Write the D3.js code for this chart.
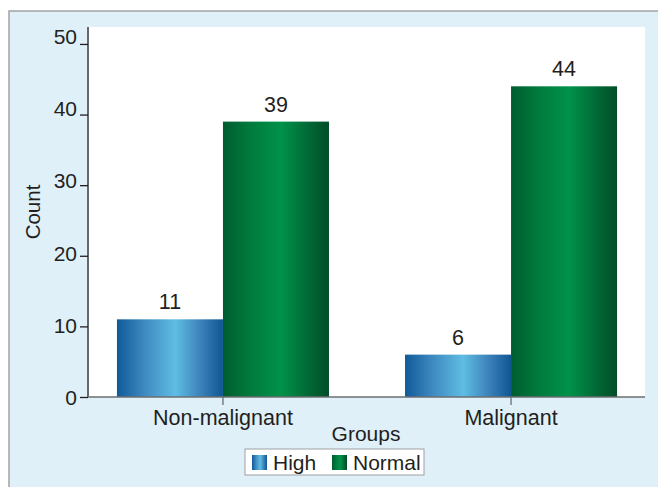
<!DOCTYPE html>
<html>
<head>
<meta charset="utf-8">
<script src="https://cdn.jsdelivr.net/npm/d3@7"></script>
<style>
  body { margin: 0; background: #fff; }
  svg text { font-family: "Liberation Sans", Arial, sans-serif; fill: #231f20; }
</style>
</head>
<body>
<svg id="chart"></svg>
<script>
// data
const groups = ['Non-malignant', 'Malignant'];
const seriesNames = ['High', 'Normal'];
const highValues = [11, 6];
const normalValues = [39, 44];
const yTicks = [0, 10, 20, 30, 40, 50];

const width = 658, height = 487;
const plot = { left: 89, right: 645, top: 27, bottom: 397 };

const svg = d3.select('#chart').attr('width', width).attr('height', height);

// gradients
const defs = svg.append('defs');
function gradient(id, stops) {
    const g = defs.append('linearGradient').attr('id', id)
        .attr('x1', '0%').attr('x2', '100%').attr('y1', '0%').attr('y2', '0%');
    stops.forEach(([o, c]) => g.append('stop').attr('offset', o).attr('stop-color', c));
}
gradient('gradHigh', [['0%', '#0f5a98'], ['25%', '#3d88bf'], ['55%', '#5fbde3'], ['80%', '#3a7fb8'], ['100%', '#0f5693']]);
gradient('gradNormal', [['0%', '#005c30'], ['25%', '#007a3d'], ['55%', '#00924a'], ['80%', '#006a36'], ['100%', '#004d27']]);
const fills = { High: 'url(#gradHigh)', Normal: 'url(#gradNormal)' };

// background frame
svg.append('rect').attr('x', 9).attr('y', 11).attr('width', 680).attr('height', 500)
    .attr('fill', '#dff0f9').attr('stroke', '#a3a3a3').attr('stroke-width', 1.5);
svg.append('rect').attr('x', plot.left).attr('y', plot.top)
    .attr('width', plot.right - plot.left).attr('height', plot.bottom - plot.top)
    .attr('fill', '#fff');

// scales
const x0 = d3.scaleBand().domain(groups).range([plot.left, plot.right])
    .paddingInner(0.264).paddingOuter(0.097);
const x1 = d3.scaleBand().domain(seriesNames).range([0, x0.bandwidth()]);
const y = d3.scaleLinear().domain([0, 52.4]).range([plot.bottom, plot.top]);

const rows = groups.map((g, i) => ({ group: g, values: [
    { key: 'High', value: highValues[i] },
    { key: 'Normal', value: normalValues[i] }
]}));

// bars
const gBars = svg.append('g');
const grp = gBars.selectAll('g').data(rows).enter().append('g')
    .attr('transform', d => `translate(${x0(d.group)},0)`);
grp.selectAll('rect').data(d => d.values).enter().append('rect')
    .attr('x', d => x1(d.key))
    .attr('y', d => y(d.value))
    .attr('width', x1.bandwidth())
    .attr('height', d => y(0) - y(d.value))
    .attr('fill', d => fills[d.key]);
grp.selectAll('text').data(d => d.values).enter().append('text')
    .attr('x', d => x1(d.key) + x1.bandwidth() / 2)
    .attr('y', d => y(d.value) - 10)
    .attr('text-anchor', 'middle')
    .style('font-size', '21.5px')
    .text(d => d.value);

// y axis
const yAxis = d3.axisLeft(y).tickValues(yTicks).tickSize(8).tickPadding(3);
const gy = svg.append('g').attr('transform', `translate(${plot.left - 1},0)`).call(yAxis);
gy.select('.domain').attr('d', `M0,${plot.top}V${plot.bottom}`).attr('stroke', '#231f20').attr('stroke-width', 1.3);
gy.selectAll('.tick line').attr('stroke', '#231f20').attr('stroke-width', 1.3);
// labels in the original drift slightly upward relative to their ticks
gy.selectAll('.tick text').style('font-size', '21px')
    .attr('dy', null).attr('y', d => 7.5 - d * 0.16);

// x axis
const gx = svg.append('g').attr('transform', `translate(0,${plot.bottom})`)
    .call(d3.axisBottom(x0).tickSize(8).tickPadding(6));
gx.select('.domain').attr('d', `M${plot.left - 1},0H${plot.right}`).attr('stroke', '#6d6e71').attr('stroke-width', 1.3);
gx.selectAll('.tick line').attr('stroke', '#6d6e71').attr('stroke-width', 1.3);
gx.selectAll('.tick text').style('font-size', '21.5px').attr('y', 13);

// axis titles
svg.append('text').attr('x', 366).attr('y', 441).attr('text-anchor', 'middle')
    .style('font-size', '21px').text('Groups');
svg.append('text').attr('transform', 'translate(40,212) rotate(-90)')
    .attr('text-anchor', 'middle').style('font-size', '20.5px').text('Count');

// legend
const legend = svg.append('g').attr('transform', 'translate(245,449)');
legend.append('rect').attr('width', 179).attr('height', 26)
    .attr('fill', '#fff').attr('stroke', '#9d9fa2').attr('stroke-width', 1);
const legendX = [7, 87];
seriesNames.forEach((s, i) => {
    legend.append('rect').attr('x', legendX[i]).attr('y', 6).attr('width', 15).attr('height', 15)
        .attr('fill', fills[s]);
    legend.append('text').attr('x', legendX[i] + 21).attr('y', 21)
        .style('font-size', '21px').text(s);
});
</script>
</body>
</html>
